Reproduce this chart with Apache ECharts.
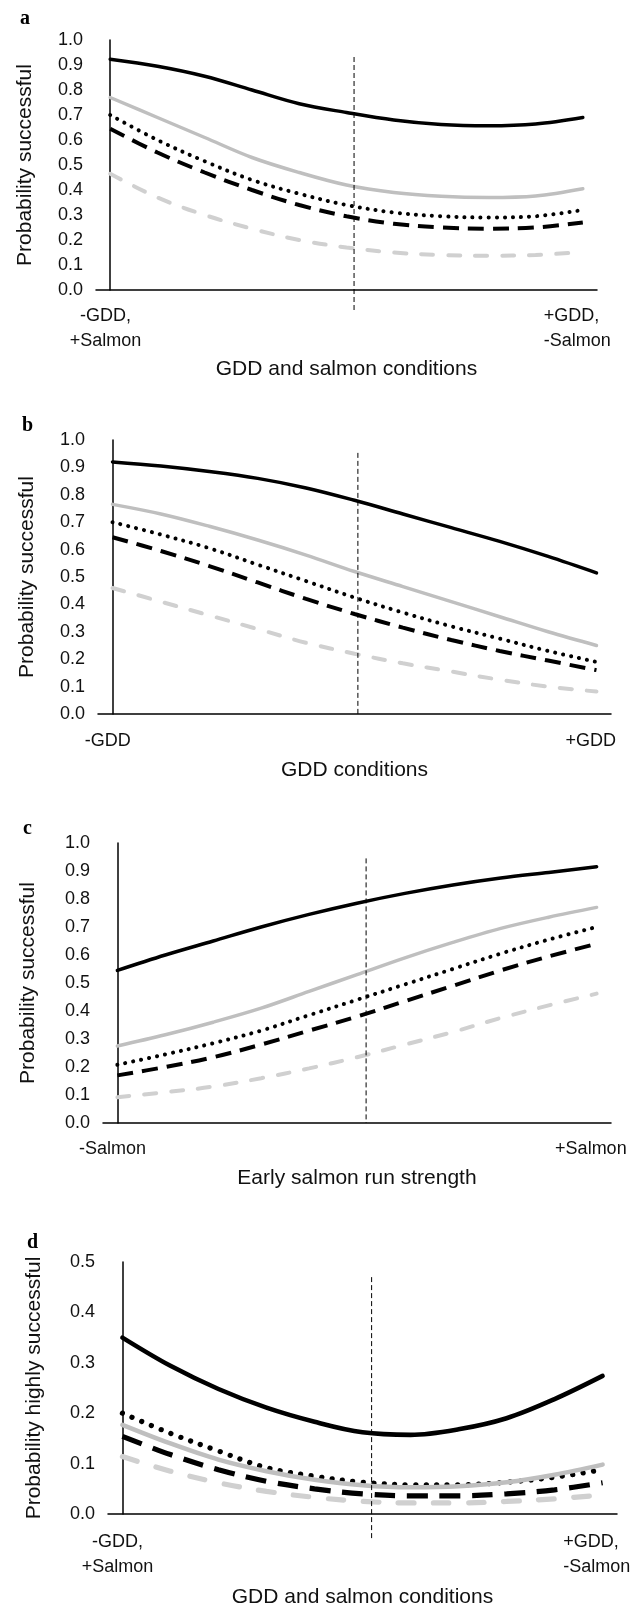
<!DOCTYPE html>
<html>
<head>
<meta charset="utf-8">
<script src="https://cdn.jsdelivr.net/npm/echarts@6/dist/echarts.min.js"></script>
<style>
  html, body { margin: 0; padding: 0; background: #fff; }
  #chart { width: 644px; height: 1608px; }
</style>
</head>
<body>
<div id="chart"></div>
<script>
// positions along the condition gradient (0 = left end, 10 = right end)
var xs = [0, 1, 2, 3, 4, 5, 6, 7, 8, 9, 10];

// panel a: GDD and salmon conditions
var aBlack    = [0.923, 0.895, 0.855, 0.80, 0.745, 0.71, 0.68, 0.662, 0.657, 0.664, 0.69];
var aGray     = [0.77, 0.69, 0.61, 0.53, 0.47, 0.42, 0.39, 0.375, 0.37, 0.376, 0.405];
var aDotted   = [0.70, 0.60, 0.515, 0.44, 0.385, 0.34, 0.31, 0.295, 0.29, 0.295, 0.32];
var aDashed   = [0.645, 0.55, 0.47, 0.40, 0.34, 0.295, 0.265, 0.25, 0.245, 0.25, 0.27];
var aGrayDash = [0.465, 0.37, 0.30, 0.245, 0.20, 0.17, 0.15, 0.14, 0.137, 0.14, 0.152];

// panel b: GDD conditions
var bBlack    = [0.92, 0.905, 0.885, 0.86, 0.825, 0.78, 0.73, 0.68, 0.63, 0.575, 0.515];
var bGray     = [0.765, 0.73, 0.685, 0.635, 0.58, 0.52, 0.465, 0.41, 0.355, 0.30, 0.25];
var bDotted   = [0.70, 0.655, 0.605, 0.545, 0.485, 0.425, 0.37, 0.32, 0.275, 0.23, 0.19];
var bDashed   = [0.645, 0.595, 0.54, 0.48, 0.42, 0.365, 0.315, 0.27, 0.23, 0.195, 0.16];
var bGrayDash = [0.46, 0.41, 0.36, 0.31, 0.26, 0.22, 0.185, 0.155, 0.125, 0.10, 0.082];

// panel c: early salmon run strength
var cBlack    = [0.545, 0.60, 0.65, 0.70, 0.745, 0.785, 0.82, 0.85, 0.875, 0.895, 0.915];
var cGray     = [0.275, 0.315, 0.36, 0.41, 0.47, 0.53, 0.59, 0.645, 0.695, 0.735, 0.77];
var cDotted   = [0.208, 0.245, 0.285, 0.33, 0.385, 0.44, 0.495, 0.55, 0.605, 0.655, 0.70];
var cDashed   = [0.17, 0.20, 0.235, 0.28, 0.33, 0.38, 0.435, 0.49, 0.545, 0.595, 0.64];
var cGrayDash = [0.092, 0.11, 0.13, 0.16, 0.195, 0.235, 0.28, 0.325, 0.375, 0.42, 0.462];

// panel d: highly successful, GDD and salmon conditions
var dBlack    = [0.35, 0.294, 0.248, 0.211, 0.183, 0.162, 0.157, 0.168, 0.19, 0.228, 0.274];
var dGray     = [0.177, 0.14, 0.108, 0.085, 0.068, 0.057, 0.053, 0.055, 0.063, 0.078, 0.098];
var dDotted   = [0.20, 0.16, 0.125, 0.092, 0.075, 0.063, 0.058, 0.058, 0.063, 0.073, 0.088];
var dDashed   = [0.154, 0.118, 0.088, 0.065, 0.05, 0.04, 0.036, 0.036, 0.04, 0.048, 0.062];
var dGrayDash = [0.114, 0.085, 0.062, 0.045, 0.033, 0.025, 0.022, 0.022, 0.025, 0.03, 0.038];

// vertical reference line: x position and its y extent
var refX   = [5.16, 5.07, 5.19, 5.19];
var refTop = [0.932, 0.953, 0.945, 0.47];
var refBot = [-0.092, 0, 0, -0.052];

var panelLetters = ['a', 'b', 'c', 'd'];
var yNames = ['Probability successful', 'Probability successful', 'Probability successful', 'Probability highly successful'];
var xNames = ['GDD and salmon conditions', 'GDD conditions', 'Early salmon run strength', 'GDD and salmon conditions'];
var leftLabels = ['-GDD,\n+Salmon', '-GDD', '-Salmon', '-GDD,\n+Salmon'];
var rightLabels = ['+GDD,\n-Salmon', '+GDD', '+Salmon', '+GDD,\n-Salmon'];
var yMax = [1, 1, 1, 0.5];

var panels = [
  [aBlack, aGray, aDotted, aDashed, aGrayDash],
  [bBlack, bGray, bDotted, bDashed, bGrayDash],
  [cBlack, cGray, cDotted, cDashed, cGrayDash],
  [dBlack, dGray, dDotted, dDashed, dGrayDash]
];

var FONT = "'Liberation Sans', Arial, sans-serif";

// layout per panel
var grids = [
  { left: 96,  right: 47, top: 40,   height: 250 },
  { left: 98,  right: 33, top: 440,  height: 274 },
  { left: 103, right: 33, top: 843,  height: 280 },
  { left: 108, right: 27, top: 1262, height: 252 }
];
var yNameGap = [60, 60, 64, 63];
var xNameGap = [69, 46, 45, 73];
var labelMargin = [14, 15, 14, 16];
var letterPos = [[15, 4], [17, 411], [18, 814], [22, 1228]];

function lineStyles(scale) {
  return [
    { color: '#000000', width: 3.5 * scale, type: 'solid' },
    { color: '#bfbfbf', width: 3.5 * scale, type: 'solid' },
    { color: '#000000', width: 4 * scale, type: [0.1, 8 * scale], cap: 'round' },
    { color: '#000000', width: 4 * scale, type: [16 * scale, 9 * scale], cap: 'butt' },
    { color: '#d0d0d0', width: 4 * scale, type: [12 * scale, 15 * scale], cap: 'round' }
  ];
}

var option = {
  animation: false,
  backgroundColor: '#fff',
  textStyle: { fontFamily: FONT, color: '#111' },
  title: [],
  grid: [],
  xAxis: [],
  yAxis: [],
  series: []
};

panels.forEach(function (lines, p) {
  option.title.push({
    text: panelLetters[p],
    left: letterPos[p][0],
    top: letterPos[p][1],
    textStyle: { fontFamily: "'Liberation Serif', 'Times New Roman', serif", fontWeight: 'bold', fontSize: 20, color: '#000' }
  });
  var g = grids[p];
  option.grid.push({ left: g.left, right: g.right, top: g.top, height: g.height, containLabel: false, outerBoundsMode: 'none' });
  option.xAxis.push({
    type: 'value',
    gridIndex: p,
    min: -0.3,
    max: 10.3,
    name: xNames[p],
    nameLocation: 'middle',
    nameGap: xNameGap[p],
    nameTextStyle: { fontSize: 21, color: '#111', fontFamily: FONT },
    axisLine: { show: true, onZero: false, lineStyle: { color: '#000', width: 1.5 } },
    axisTick: { show: false },
    splitLine: { show: false },
    axisLabel: {
      customValues: [-0.1, 9.88],
      margin: labelMargin[p],
      fontSize: 18,
      lineHeight: 25,
      color: '#111',
      fontFamily: FONT,
      formatter: function (v) {
        if (v < 5) {
          return leftLabels[p].split('\n').map(function (s) { return '{c|' + s + '}'; }).join('\n');
        }
        return rightLabels[p].split('\n').map(function (s) { return '{l|' + s + '}'; }).join('\n');
      },
      rich: {
        c: { align: 'center', fontSize: 18, lineHeight: 25, fontFamily: FONT, color: '#111' },
        l: { align: 'left', fontSize: 18, lineHeight: 25, fontFamily: FONT, color: '#111' }
      }
    }
  });
  option.yAxis.push({
    type: 'value',
    gridIndex: p,
    min: 0,
    max: yMax[p],
    interval: 0.1,
    name: yNames[p],
    nameLocation: 'middle',
    nameGap: yNameGap[p],
    nameTextStyle: { fontSize: 21, color: '#111', fontFamily: FONT },
    axisLine: { show: true, lineStyle: { color: '#000', width: 1.5 } },
    axisTick: { show: false },
    splitLine: { show: false },
    axisLabel: {
      margin: 13,
      fontSize: 18,
      color: '#111',
      fontFamily: FONT,
      formatter: function (v) { return v.toFixed(1); }
    }
  });

  var styles = lineStyles(p === 3 ? 1.3 : 1);
  // draw order: light dashed first, black solid last
  var order = [4, 3, 2, 1, 0];
  order.forEach(function (k) {
    var vals = lines[k];
    var st = styles[k];
    option.series.push({
      type: 'line',
      xAxisIndex: p,
      yAxisIndex: p,
      smooth: 0.35,
      symbol: 'none',
      silent: true,
      data: xs.map(function (x, i) { return [x, vals[i]]; }),
      lineStyle: { color: st.color, width: st.width, type: st.type, cap: st.cap || 'round' }
    });
  });

  // vertical dashed reference line (may run below the x axis)
  option.series.push({
    type: 'line',
    xAxisIndex: p,
    yAxisIndex: p,
    clip: false,
    symbol: 'none',
    silent: true,
    z: 5,
    data: [[refX[p], refTop[p]], [refX[p], refBot[p]]],
    lineStyle: { color: '#000', width: 1, type: [5, 3] }
  });
});

var chart = echarts.init(document.getElementById('chart'), null, { renderer: 'canvas' });
chart.setOption(option);
</script>
</body>
</html>
